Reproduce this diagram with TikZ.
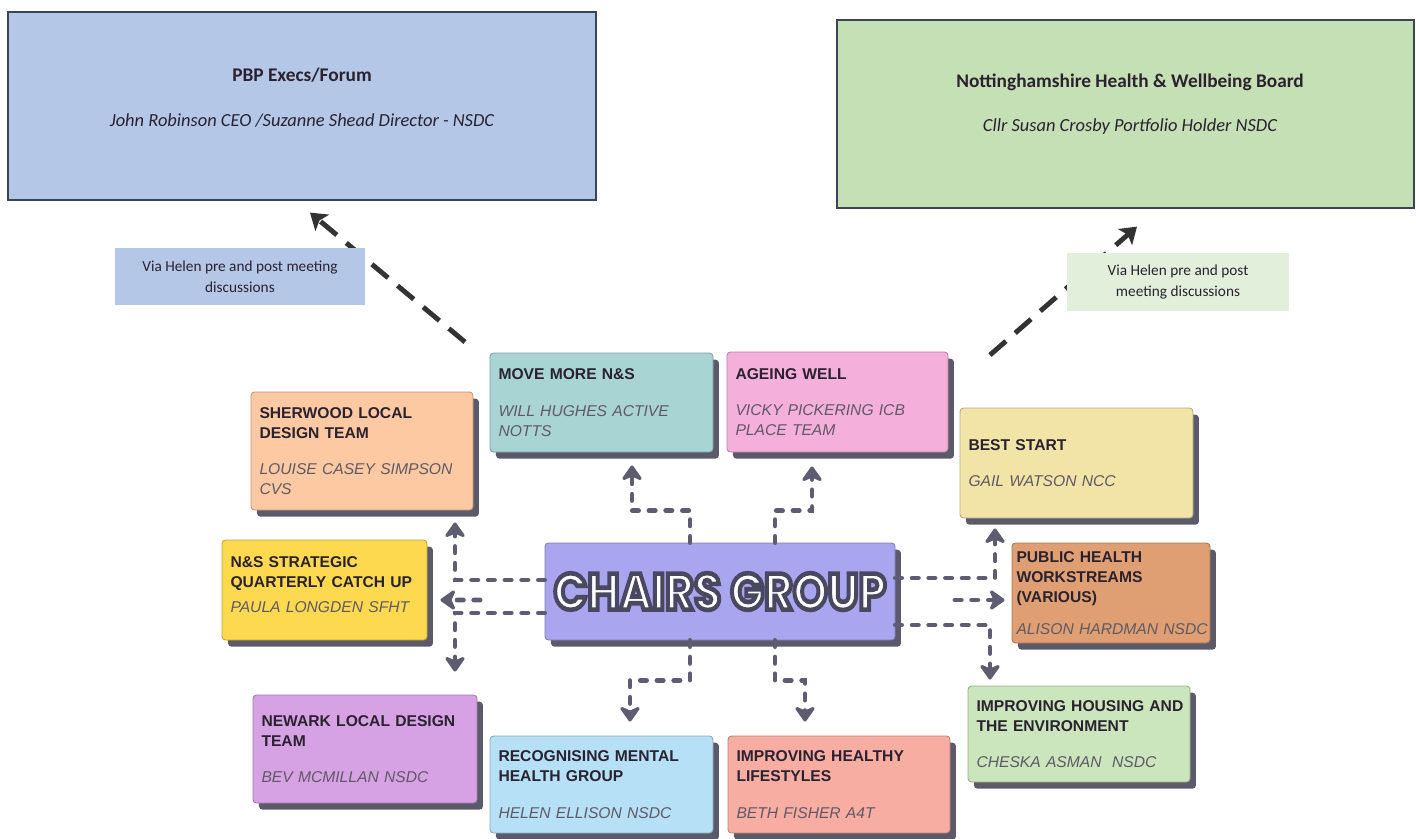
\documentclass[tikz,border=0pt]{standalone}
\usepackage{fontspec}
\usepackage{graphicx}
\setmainfont{Liberation Sans}
\newfontfamily\calibri{Carlito}
\newfontfamily\bubble{Poppins}[BoldFeatures={FakeBold=9}]
\usetikzlibrary{arrows.meta,shadows}

\definecolor{pbpblue}{HTML}{B4C7E7}
\definecolor{boardgreen}{HTML}{C5E0B4}
\definecolor{notegreen}{HTML}{E2EFDA}
\definecolor{framec}{HTML}{3B4654}
\definecolor{peach}{HTML}{FCC9A2}
\definecolor{teal}{HTML}{A8D4D4}
\definecolor{pink}{HTML}{F4AFDB}
\definecolor{paleyellow}{HTML}{F1E4A6}
\definecolor{yellow}{HTML}{FDD94F}
\definecolor{periwinkle}{HTML}{A9A5EF}
\definecolor{orange}{HTML}{DF9F72}
\definecolor{lilac}{HTML}{D7A2E4}
\definecolor{skyblue}{HTML}{B6E0F6}
\definecolor{salmon}{HTML}{F8ADA2}
\definecolor{mint}{HTML}{CBE5BC}
\definecolor{shadowc}{HTML}{5B5A6B}
\definecolor{linkc}{HTML}{5E5C70}
\definecolor{escalatec}{HTML}{333333}
\definecolor{titlec}{HTML}{2A2230}
\definecolor{namec}{HTML}{5F5A66}

% white letters, dark stroke round them
\newcommand{\outlined}[1]{{\color{white}\special{pdf:literal direct 0.290 0.278 0.376 RG}#1}}
\newcommand{\who}[1]{{\color{namec}\itshape #1}}

\begin{document}
\begin{tikzpicture}[
  card/.style={rectangle, rounded corners=2pt, draw=#1!75!black, fill=#1,
    line width=0.5pt, align=left, text=titlec, inner xsep=0.17cm,
    font=\fontsize{8.9}{11.3}\selectfont,
    drop shadow={fill=shadowc, opacity=1, shadow xshift=3.4pt, shadow yshift=-3.8pt}},
  panel/.style={rectangle, draw=framec, fill=#1, line width=0.7pt},
  note/.style={rectangle, fill=#1, align=center, text=titlec,
    font=\calibri\fontsize{8.7}{12}\selectfont},
  link/.style={draw=linkc, line width=2.8pt, line cap=round,
    dash pattern=on 3.5pt off 6pt,
    -{Stealth[length=10pt,width=14pt,inset=3pt,round]}},
  escalate/.style={draw=escalatec, line width=2.8pt,
    dash pattern=on 12pt off 7pt,
    -{Stealth[length=9pt,width=12pt,inset=2pt]}}
]
\useasboundingbox (0,0) rectangle (28.32,-16.76);

% Boards at the top
\node[panel=pbpblue, minimum width=11.76cm, minimum height=3.76cm] (pbp) at (6.04,-2.12) {};
\node[panel=boardgreen, minimum width=11.54cm, minimum height=3.76cm] (board) at (22.51,-2.28) {};
\node[font=\calibri\fontsize{11}{13}\selectfont\bfseries, text=titlec] (pbptitle) at (6.04,-1.5) {PBP Execs/Forum};
\node[font=\calibri\fontsize{10.5}{13}\selectfont\itshape, text=titlec] (pbpname) at (6.04,-2.4) {John Robinson CEO /Suzanne Shead Director - NSDC};
\node[font=\calibri\fontsize{11}{13}\selectfont\bfseries, text=titlec] (boardtitle) at (22.6,-1.64) {Nottinghamshire Health \& Wellbeing Board};
\node[font=\calibri\fontsize{10.5}{13}\selectfont\itshape, text=titlec] (boardname) at (22.6,-2.54) {Cllr Susan Crosby Portfolio Holder NSDC};

% Arrows up to the boards
\coordinate (pbpfrom) at (9.3,-6.84);
\coordinate (boardfrom) at (19.8,-7.1);
\draw[escalate] (pbpfrom) -- ([xshift=0.16cm,yshift=-0.24cm]pbp.south);
\draw[escalate] (boardfrom) -- ([xshift=0.23cm,yshift=-0.36cm]board.south);

% Notes beside the arrows
\node[note=pbpblue, minimum width=5cm, minimum height=1.14cm] (pbpnote) at (4.8,-5.53) {Via Helen pre and post meeting\\discussions};
\node[note=notegreen, minimum width=4.44cm, minimum height=1.16cm] (boardnote) at (23.56,-5.64) {Via Helen pre and post\\meeting discussions};

% Chairs group in the middle
\node[card=periwinkle, minimum width=7cm, minimum height=1.94cm, align=center] (chairs) at (14.4,-11.83)
  {\resizebox{6.65cm}{0.73cm}{\outlined{\bubble\bfseries CHAIRS GROUP}}};

% Workstream cards
\node[card=peach, minimum width=4.44cm, minimum height=2.36cm, text width=4.1cm] (sherwood) at (7.24,-9.02)
  {\textbf{SHERWOOD LOCAL}\\\textbf{DESIGN TEAM}\\[9.5pt]\who{LOUISE CASEY SIMPSON}\\\who{CVS}};
\node[card=teal, minimum width=4.46cm, minimum height=1.98cm, text width=4.12cm] (movemore) at (12.03,-8.05)
  {\textbf{MOVE MORE N\&S}\\[9.5pt]\who{WILL HUGHES ACTIVE}\\\who{NOTTS}};
\node[card=pink, minimum width=4.42cm, minimum height=2cm, text width=4.08cm] (ageing) at (16.75,-8.04)
  {\textbf{AGEING WELL}\\[9.5pt]\who{VICKY PICKERING ICB}\\\who{PLACE TEAM}};
\node[card=paleyellow, minimum width=4.66cm, minimum height=2.2cm, text width=4.32cm] (beststart) at (21.53,-9.26)
  {\textbf{BEST START}\\[9.5pt]\who{GAIL WATSON NCC}};
\node[card=yellow, minimum width=4.1cm, minimum height=2cm, text width=3.76cm] (nsstrat) at (6.49,-11.8)
  {\textbf{N\&S STRATEGIC}\\\textbf{QUARTERLY CATCH UP}\\[3pt]\who{PAULA LONGDEN SFHT}\\[-5pt]\mbox{}};
\node[card=orange, minimum width=3.96cm, minimum height=2cm, text width=3.78cm, inner xsep=0.09cm, inner ysep=2pt] (pubhealth) at (22.22,-11.86)
  {\textbf{PUBLIC HEALTH}\\\textbf{WORKSTREAMS}\\\textbf{(VARIOUS)}\\[7pt]\mbox{\who{ALISON HARDMAN NSDC}}};
\node[card=lilac, minimum width=4.48cm, minimum height=2.16cm, text width=4.14cm] (newark) at (7.3,-14.98)
  {\textbf{NEWARK LOCAL DESIGN}\\\textbf{TEAM}\\[9.5pt]\who{BEV MCMILLAN NSDC}};
\node[card=skyblue, minimum width=4.46cm, minimum height=1.94cm, text width=4.12cm] (recog) at (12.03,-15.69)
  {\textbf{RECOGNISING MENTAL}\\\textbf{HEALTH GROUP}\\[9.5pt]\who{HELEN ELLISON NSDC}};
\node[card=salmon, minimum width=4.44cm, minimum height=1.94cm, text width=4.1cm] (healthy) at (16.78,-15.69)
  {\textbf{IMPROVING HEALTHY}\\\textbf{LIFESTYLES}\\[9.5pt]\who{BETH FISHER A4T}};
\node[card=mint, minimum width=4.44cm, minimum height=1.92cm, text width=4.1cm] (housing) at (21.58,-14.68)
  {\mbox{\textbf{IMPROVING HOUSING AND}}\\\textbf{THE ENVIRONMENT}\\[9.5pt]\who{CHESKA ASMAN\ \ NSDC}};

% Links out of the chairs group
\coordinate (nsfrom) at (9.6,-12.0);
\coordinate (phfrom) at (19.1,-12.0);
\draw[link] ([xshift=-0.6cm]chairs.north) -- ++(0,0.64) -| ([xshift=0.61cm,yshift=-0.26cm]movemore.south);
\draw[link] ([xshift=1.1cm]chairs.north) -- ++(0,0.64) -| ([xshift=-0.51cm,yshift=-0.28cm]ageing.south);
\draw[link] ([yshift=0.23cm]chairs.west) -| ([xshift=1.86cm,yshift=-0.24cm]sherwood.south);
\draw[link] (nsfrom) -- ([xshift=0.26cm,yshift=-0.2cm]nsstrat.east);
\draw[link] ([yshift=-0.43cm]chairs.west) -| ([xshift=1.8cm,yshift=0.46cm]newark.north);
\draw[link] ([yshift=0.27cm]chairs.east) -| ([xshift=-1.63cm,yshift=-0.2cm]beststart.south);
\draw[link] (phfrom) -- ([xshift=-0.14cm,yshift=-0.14cm]pubhealth.west);
\draw[link] ([yshift=-0.67cm]chairs.east) -| ([xshift=-1.78cm,yshift=0.12cm]housing.north);
\draw[link] ([xshift=-0.6cm]chairs.south) -- ++(0,-0.8) -| ([xshift=0.57cm,yshift=0.28cm]recog.north);
\draw[link] ([xshift=1.1cm]chairs.south) -- ++(0,-0.8) -| ([xshift=-0.68cm,yshift=0.28cm]healthy.north);

\end{tikzpicture}
\end{document}
